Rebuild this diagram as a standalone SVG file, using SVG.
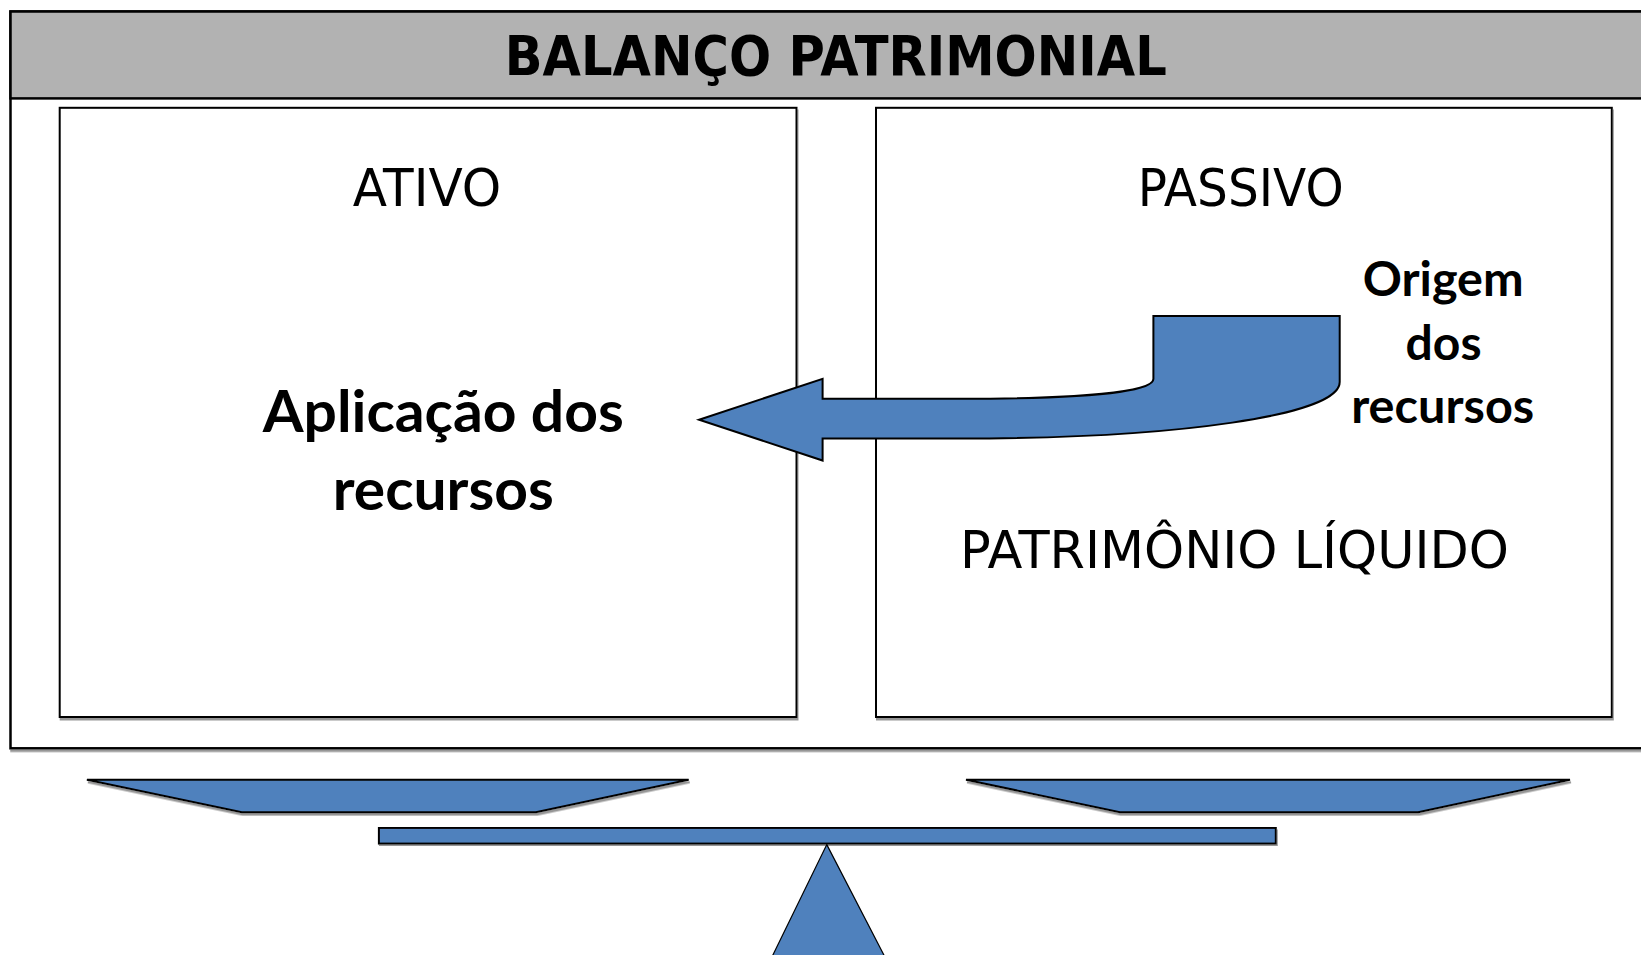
<svg xmlns="http://www.w3.org/2000/svg" width="1641" height="955" viewBox="0 0 1641 955">
<defs>
<filter id="sh" x="-5%" y="-5%" width="110%" height="115%">
<feDropShadow dx="1" dy="2.5" stdDeviation="0.6" flood-color="#8a8a8a" flood-opacity="0.9"/>
</filter>
</defs>
<style>
.frame{fill:#ffffff;stroke:#000;stroke-width:2.5}
.box{fill:#ffffff;stroke:#000;stroke-width:2}
.blue{fill:#4f81bd;stroke:#000;stroke-width:2;stroke-linejoin:miter}
.title{font-family:"DejaVu Sans","Liberation Sans",sans-serif;font-weight:bold;font-size:56px;fill:#000}
.lbl{font-family:"DejaVu Sans","Liberation Sans",sans-serif;font-size:52px;fill:#000}
.bold{font-family:Lato,"Open Sans","Liberation Sans",sans-serif;font-weight:bold;fill:#000}
</style>
<rect width="1641" height="955" fill="#ffffff"/>
<g id="frame">
<rect class="frame" x="10.5" y="11.5" width="1650" height="736.8" filter="url(#sh)"/>
<rect x="10.5" y="11.5" width="1650" height="86.9" fill="#b2b2b2" stroke="#000" stroke-width="2.5"/>
<text class="title" x="835.8" y="75.4" text-anchor="middle" textLength="662" lengthAdjust="spacingAndGlyphs">BALANÇO PATRIMONIAL</text>
</g>
<g id="ativo">
<rect class="box" x="59.7" y="107.8" width="736.8" height="609.2" filter="url(#sh)"/>
<text class="lbl" x="427" y="206.2" text-anchor="middle" textLength="148.6" lengthAdjust="spacingAndGlyphs">ATIVO</text>
<text class="bold" x="443.3" y="432.2" font-size="57" text-anchor="middle" textLength="361" lengthAdjust="spacingAndGlyphs">Aplicação dos</text>
<text class="bold" x="443.3" y="509.7" font-size="57" text-anchor="middle" textLength="221" lengthAdjust="spacingAndGlyphs">recursos</text>
</g>
<g id="passivo">
<rect class="box" x="876" y="107.8" width="735.8" height="609.2" filter="url(#sh)"/>
<text class="lbl" x="1240.7" y="206.2" text-anchor="middle" textLength="206" lengthAdjust="spacingAndGlyphs">PASSIVO</text>
<text class="lbl" x="1234.5" y="567.5" text-anchor="middle" textLength="549" lengthAdjust="spacingAndGlyphs">PATRIMÔNIO LÍQUIDO</text>
<text class="bold" x="1443.2" y="296.2" font-size="47" text-anchor="middle" textLength="161" lengthAdjust="spacingAndGlyphs">Origem</text>
<text class="bold" x="1443.6" y="360" font-size="47" text-anchor="middle" textLength="76" lengthAdjust="spacingAndGlyphs">dos</text>
<text class="bold" x="1442.7" y="422.8" font-size="47" text-anchor="middle" textLength="183" lengthAdjust="spacingAndGlyphs">recursos</text>
</g>
<g id="connectors">
<path class="blue" d="M699.1,419.7 L822.6,378.9 L822.6,398.8 L960,398.8 C1080,398.8 1153.4,392 1153.4,378.9 L1153.4,316.1 L1339.7,316.1 L1339.7,382 C1339.7,415 1180,438.5 960,438.5 L822.6,438.5 L822.6,460.5 Z"/>
</g>
<g id="scale">
<polygon class="blue" points="86.9,779.7 688.7,779.7 535.9,812.2 241.8,812.2" filter="url(#sh)"/>
<polygon class="blue" points="966,779.7 1570,779.7 1418.2,812.2 1119.9,812.2" filter="url(#sh)"/>
<rect class="blue" x="378.9" y="827.9" width="896.9" height="15.7" filter="url(#sh)"/>
<polygon fill="#4f81bd" stroke="#000" stroke-width="1.2" points="826.8,844.6 884.4,956 772.4,956"/>
</g>
</svg>
